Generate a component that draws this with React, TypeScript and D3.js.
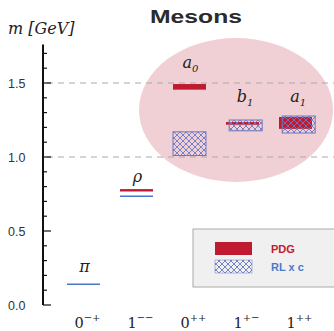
import React from "react";
import * as d3 from "d3";

const categories = ["0-+", "1--", "0++", "1+-", "1++"];
const labelBase = ["0", "1", "0", "1", "1"];
const labelSup = ["\u2212+", "\u2212\u2212", "++", "+\u2212", "++"];
const mesonNames = ["\u03c0", "\u03c1", "a", "b", "a"];
const mesonSubs = ["", "", "0", "1", "1"];
const pdgLow = [null, 0.775, 1.455, 1.218, 1.19];
const pdgHigh = [null, 0.775, 1.493, 1.236, 1.27];
const rlLow = [0.14, 0.735, 1.01, 1.177, 1.162];
const rlHigh = [0.14, 0.735, 1.17, 1.25, 1.277];
const rlShift = [0, 0, 0, 0.12, 0.12];
const labelValue = [0.22, 0.83, 1.6, 1.37, 1.37];
const yTicks = [0, 0.5, 1.0, 1.5];
const gridValues = [1.0, 1.5];

const RED = "#c01a30";
const BLUE = "#4a78c8";
const HATCH = "#6878c4";

export default function App() {
  const W = 334, H = 331;
  const y = d3.scaleLinear().domain([0, 1.5]).range([305, 83]);
  const x = d3.scalePoint<string>().domain(categories).range([83.5, 295.5]);
  const step = x.step();
  const barW = 33;
  const minor = d3.range(0, 1.75, 0.1).map((v) => Math.round(v * 10) / 10);
  const serif = "'DejaVu Serif', 'Liberation Serif', serif";
  const sans = "'Liberation Sans', Arial, sans-serif";

  return (
    <svg width={W} height={H} style={{ position: "absolute", left: 0, top: 0, background: "#fff" }}>
      <defs>
        <pattern id="hatch" width="6" height="6" patternUnits="userSpaceOnUse">
          <path d="M0,0 L6,6 M6,0 L0,6 M-1,5 L1,7 M5,-1 L7,1 M-1,1 L1,-1 M5,7 L7,5" stroke={HATCH} strokeWidth={0.9} fill="none" />
        </pattern>
      </defs>
      <ellipse cx={236} cy={110} rx={97} ry={72} fill="#f1d0d5" />
      {gridValues.map((v) => (
        <line key={v} x1={47} x2={334} y1={y(v)} y2={y(v)} stroke="#aaa" strokeDasharray="6,5" strokeWidth={1} />
      ))}
      <text x={150} y={23} textLength={92} lengthAdjust="spacingAndGlyphs" fontFamily={sans} fontWeight="bold" fontSize={19} fill="#2b2b2b">Mesons</text>
      <text x={8} y={34} fontFamily={serif} fontStyle="italic" fontSize={16} fill="#222">m [GeV]</text>
      <line x1={43} x2={43} y1={y(0)} y2={y(1.76)} stroke="#111" strokeWidth={2} />
      {minor.map((v) => {
        const major = yTicks.some((t) => Math.abs(t - v) < 1e-6);
        return <line key={v} x1={43} x2={major ? 51 : 47} y1={y(v)} y2={y(v)} stroke="#111" strokeWidth={1.2} />;
      })}
      {yTicks.map((v) => (
        <text key={v} x={8} y={y(v) + 4.5} fontFamily={sans} fontSize={12.5} fill="#333">{v.toFixed(1)}</text>
      ))}
      {categories.map((c, i) => {
        const cx = x(c)!;
        const bx = cx + rlShift[i] * step / 2;
        const els: any[] = [];
        if (pdgLow[i] !== null) {
          const lo = pdgLow[i]!, hi = pdgHigh[i]!;
          if (hi - lo < 0.01) {
            els.push(<rect key="p" x={cx - barW / 2} y={y(lo) - 1.2} width={barW} height={2.4} fill={RED} />);
          } else {
            els.push(<rect key="p" x={cx - barW / 2} y={y(hi)} width={barW} height={y(lo) - y(hi)} fill={RED} />);
          }
        }
        if (rlHigh[i] - rlLow[i] < 0.01) {
          els.push(<line key="r" x1={bx - barW / 2} x2={bx + barW / 2} y1={y(rlLow[i])} y2={y(rlLow[i])} stroke={BLUE} strokeWidth={1.5} />);
        } else {
          els.push(<rect key="r" x={bx - barW / 2} y={y(rlHigh[i])} width={barW} height={y(rlLow[i]) - y(rlHigh[i])} fill="url(#hatch)" stroke={HATCH} strokeWidth={1} />);
        }
        const lx = (cx + bx) / 2 + 1;
        els.push(
          <text key="n" x={lx} y={y(labelValue[i])} textAnchor="middle" fontFamily={serif} fontStyle="italic" fontSize={16} fill="#222">
            {mesonNames[i]}
            {mesonSubs[i] ? <tspan fontSize={10} dy={4}>{mesonSubs[i]}</tspan> : null}
          </text>
        );
        els.push(
          <text key="x" x={cx + 4} y={328} textAnchor="middle" fontFamily={serif} fontSize={14.5} fill="#222">
            {labelBase[i]}
            <tspan fontSize={10} dy={-7}>{labelSup[i]}</tspan>
          </text>
        );
        return <g key={c}>{els}</g>;
      })}
      <rect x={193} y={229} width={145} height={58} fill="#f0f0f0" stroke="#aaa" strokeWidth={1} />
      <rect x={215} y={242} width={37} height={13} fill={RED} />
      <rect x={215} y={260} width={37} height={13} fill="url(#hatch)" stroke={HATCH} strokeWidth={0.5} />
      <text x={271} y={253} fontFamily={sans} fontWeight="bold" fontSize={11} fill={RED}>PDG</text>
      <text x={271} y={271} fontFamily={sans} fontWeight="bold" fontSize={11} fill={BLUE}>RL x c</text>
    </svg>
  );
}
